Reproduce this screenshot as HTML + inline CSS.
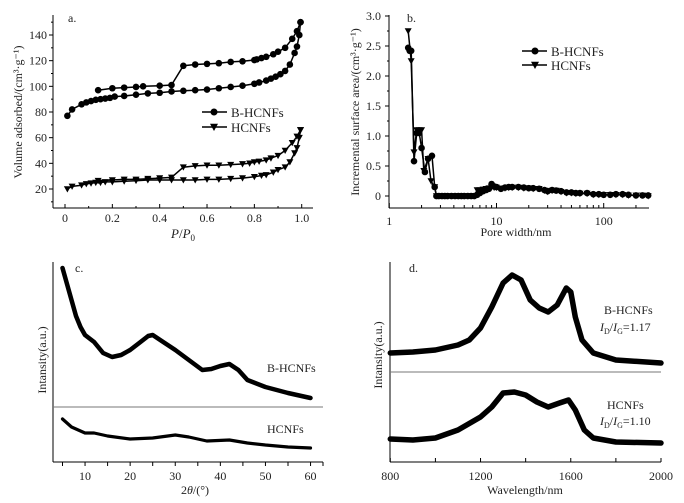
<!DOCTYPE html>
<html><head><meta charset="utf-8"><style>
body{margin:0;background:#fff}
svg{display:block;font-family:"Liberation Serif","Times New Roman",serif;}
svg text{font-family:"Liberation Serif","Times New Roman",serif;fill:#222}
</style></head><body>
<svg id="fig" width="684" height="503" viewBox="0 0 684 503"></svg>
<script>
// ---------- Panel a data ----------
const aBAdsP=[0.01,0.03,0.07,0.09,0.11,0.13,0.15,0.17,0.19,0.21,0.25,0.3,0.35,0.4,0.45,0.5,0.55,0.6,0.65,0.7,0.75,0.8,0.82,0.85,0.87,0.89,0.91,0.93,0.95,0.97,0.98,0.99,0.995];
const aBAdsV=[77,82,86,87.5,88.5,89.5,90,90.5,91,92,92.5,93.5,94.5,95,96,96.5,97,97.5,98.5,99.5,100.5,102,103,104.5,106,107.5,109.5,112,117,126,131,140,150];
const aBDesP=[0.995,0.98,0.96,0.93,0.9,0.88,0.85,0.83,0.81,0.8,0.75,0.7,0.65,0.6,0.55,0.5,0.45,0.4,0.33,0.3,0.25,0.2,0.14];
const aBDesV=[150,143,137,130,127,125,123,122,121,120.5,119.5,119,118,117.5,117,116,101,100.5,100,99.5,99,98.5,97];
const aHAdsP=[0.01,0.03,0.07,0.09,0.11,0.13,0.15,0.17,0.2,0.25,0.3,0.35,0.4,0.45,0.5,0.55,0.6,0.65,0.7,0.75,0.8,0.83,0.85,0.88,0.9,0.93,0.95,0.97,0.98,0.99,0.995];
const aHAdsV=[20,22,23,24,24.5,25,25,25.5,25.5,26,26.5,27,27,27,27,27,27.5,27.5,28,28.5,29.5,30.5,31,33,35,37,41,48,52,60,66];
const aHDesP=[0.995,0.98,0.96,0.93,0.9,0.87,0.85,0.82,0.8,0.78,0.75,0.7,0.65,0.6,0.55,0.5,0.45,0.4,0.35,0.3,0.25,0.2,0.14];
const aHDesV=[66,61,56,50,46,44,42.5,41.5,41,40,39.5,39,38.5,38.5,38,37,29,28.5,28,27.5,27.5,27,26.5];
const aXTicks=[0,0.2,0.4,0.6,0.8,1.0];
const aXLabels=["0","0.2","0.4","0.6","0.8","1.0"];
const aYTicks=[20,40,60,80,100,120,140];
// ---------- Panel b data ----------
const bBx=[1.5,1.55,1.6,1.7,1.8,1.9,2.0,2.15,2.3,2.5,2.65,2.75,2.9,3.1,3.3,3.5,3.8,4.1,4.4,4.7,5.0,5.4,5.8,6.2,6.6,7,7.5,8,8.5,9,9.5,10,11,12,13,14,16,18,20,22,25,28,30,33,36,40,45,50,55,60,70,80,90,100,115,130,150,170,200,230,260];
const bBy=[2.47,2.42,2.42,0.58,1.05,1.05,0.8,0.4,0.62,0.67,0.15,0,0,0,0,0,0,0,0,0,0,0,0,0,0.02,0.05,0.08,0.1,0.12,0.2,0.16,0.15,0.12,0.14,0.15,0.15,0.15,0.14,0.13,0.13,0.12,0.1,0.08,0.1,0.09,0.08,0.06,0.06,0.05,0.05,0.05,0.03,0.03,0.02,0.02,0.03,0.03,0.02,0.01,0.01,0.01];
const bHx=[1.5,1.6,1.7,1.8,1.9,2.0,2.1,2.3,2.45,2.65,2.75,2.9,3.1,3.3,3.5,3.8,4.1,4.4,4.7,5.0,5.4,5.8,6.2,6.6,7,7.5,8,8.5,9,9.5,10,11,12,13,14,16,18,20,22,25,28,30,33,36,40,45,50,55,60,70,80,90,100,115,130,150,170,200,230,260];
const bHy=[2.75,2.25,0.73,1.1,1.1,1.1,0.42,0.62,0.25,0.15,0,0,0,0,0,0,0,0,0,0,0,0,0,0.1,0.1,0.11,0.12,0.13,0.15,0.14,0.14,0.12,0.13,0.14,0.14,0.14,0.13,0.13,0.12,0.12,0.09,0.07,0.09,0.09,0.07,0.05,0.05,0.04,0.04,0.04,0.02,0.02,0.02,0.02,0.02,0.02,0.01,0.01,0.01,0.0];
const bXTicks=[1,10,100];
const bYTicks=[0,0.5,1.0,1.5,2.0,2.5,3.0];
const bYLabels=["0","0.5","1.0","1.5","2.0","2.5","3.0"];
// ---------- Panel c data ----------
const cBx=[5,6,7,8,9,10,12,14,16,18,20,22,24,25,27,30,33,36,38,40,42,44,46,50,55,60];
const cBy=[194,178,162,146,135,127,120,109,105,107,112,119,126,127,121,112,102,92,93,96,98,92,82,75,69,64];
const cHx=[5,7,10,12,15,20,25,30,33,37,42,46,50,55,60];
const cHy=[43,35,29,29,26,23,24,27,25,21,22,19,17,15,14];
const cXTicks=[10,20,30,40,50,60];
// ---------- Panel d data ----------
const dBx=[800,900,1000,1100,1150,1200,1250,1300,1340,1380,1420,1460,1500,1540,1580,1600,1620,1650,1700,1800,2000];
const dBy=[109,110,112,117,122,134,155,179,187,182,162,154,150,157,174,170,145,122,109,102,99];
const dHx=[800,900,1000,1100,1200,1250,1300,1350,1400,1450,1500,1550,1590,1620,1660,1700,1800,2000];
const dHy=[23,22,24,32,45,55,69,70,67,60,55,59,62,52,32,24,20,19];
const dXTicks=[800,1200,1600,2000];

const NS="http://www.w3.org/2000/svg";
const svg=document.getElementById('fig');
function mk(tag,attrs,parent){const e=document.createElementNS(NS,tag);for(const k in attrs)e.setAttribute(k,attrs[k]);(parent||svg).appendChild(e);return e;}
function txt(s,x,y,attrs){const e=mk('text',Object.assign({x:x,y:y,'font-size':12,'font-family':'Liberation Serif, serif'},attrs||{}));e.textContent=s;return e;}

const ax=p=>65+p*236.7, ay=v=>189-(v-20)*(154/120);
const bx=w=>389.3+Math.log10(w)*107.2, by=v=>196-v*60;
const cx=t=>62.5+(t-5)*4.51, cy=v=>462-v;
const dx=w=>390.3+(w-800)*(270.7/1200), dy=v=>462-v;

function poly(xs,ys,fx,fy,sw,name){
  const pts=xs.map((x,i)=>fx(x).toFixed(1)+','+fy(ys[i]).toFixed(1)).join(' ');
  const p=mk('polyline',{points:pts,fill:'none',stroke:'#000','stroke-width':sw,'stroke-linejoin':'round','stroke-linecap':'round'});
  
  
  return p;
}
function circ(x,y,r){const c=mk('circle',{cx:x,cy:y,r:r,fill:'#000'});
  
  }
function tri(x,y,s){const t=mk('polygon',{points:`${x-s},${y-s*0.8} ${x+s},${y-s*0.8} ${x},${y+s}`,fill:'#000'});
  
  }
function line(x1,y1,x2,y2,w,c){return mk('line',{x1,y1,x2,y2,stroke:c||'#000','stroke-width':w||1});}

// ===== Panel a =====
line(53,15,53,208);line(53,208,313,208);
aXTicks.forEach((t,i)=>{line(ax(t),208,ax(t),204);txt(aXLabels[i],ax(t),222,{'text-anchor':'middle'});});
[0.1,0.3,0.5,0.7,0.9].forEach(t=>line(ax(t),208,ax(t),206));
aYTicks.forEach(t=>{line(53,ay(t),49,ay(t));txt(String(t),47,ay(t)+4,{'text-anchor':'end'});});
[30,50,70,90,110,130,150,10].forEach(t=>{if(ay(t)<208&&ay(t)>15)line(53,ay(t),51,ay(t));});
poly(aBAdsP,aBAdsV,ax,ay,1.5,'b-hcnfs-adsorption-line');poly(aBDesP,aBDesV,ax,ay,1.5,'b-hcnfs-desorption-line');
poly(aHAdsP,aHAdsV,ax,ay,1.5,'hcnfs-adsorption-line');poly(aHDesP,aHDesV,ax,ay,1.5,'hcnfs-desorption-line');
aBAdsP.forEach((p,i)=>circ(ax(p),ay(aBAdsV[i]),3.3));aBDesP.forEach((p,i)=>circ(ax(p),ay(aBDesV[i]),3.3));
aHAdsP.forEach((p,i)=>tri(ax(p),ay(aHAdsV[i]),3.5));aHDesP.forEach((p,i)=>tri(ax(p),ay(aHDesV[i]),3.5));
txt('a.',68,22,{});
line(202,112,227,112,1.5);circ(214,112,3.5);txt('B-HCNFs',231,117,{'font-size':13});
line(202,127,227,127,1.5);tri(214,127,4);txt('HCNFs',231,132,{'font-size':13});
txt('Volume adsorbed/(cm³·g⁻¹)',0,0,{'font-size':12,transform:'translate(22,112) rotate(-90)','text-anchor':'middle',});
(function(){const t=txt('',183,238,{'text-anchor':'middle','font-size':13,});t.innerHTML='<tspan font-style="italic">P</tspan>/<tspan font-style="italic">P</tspan><tspan font-size="9" dy="3">0</tspan>';})();

// ===== Panel b =====
line(389,15,389,208);line(389,208,649,208);
bXTicks.forEach(t=>{line(bx(t),208,bx(t),203);txt(String(t),bx(t),225,{'text-anchor':'middle'});});
[2,3,4,5,6,7,8,9,20,30,40,50,60,70,80,90,200].forEach(t=>line(bx(t),208,bx(t),205));
bYTicks.forEach((t,i)=>{line(389,by(t),385,by(t));txt(bYLabels[i],381,by(t)+4,{'text-anchor':'end'});});
[0.25,0.75,1.25,1.75,2.25,2.75].forEach(t=>line(389,by(t),387,by(t)));
poly(bHx,bHy,bx,by,1.5,'hcnfs-pore-line');poly(bBx,bBy,bx,by,1.5,'b-hcnfs-pore-line');
bHx.forEach((x,i)=>tri(bx(x),by(bHy[i]),3.5));bBx.forEach((x,i)=>circ(bx(x),by(bBy[i]),3.3));
txt('b.',407,22,{});
line(522,51,547,51,1.5);circ(535,51,3.5);txt('B-HCNFs',551,56,{'font-size':13});
line(522,65,547,65,1.5);tri(535,65,4);txt('HCNFs',551,70,{'font-size':13});
txt('Incremental surface area/(cm³·g⁻¹)',0,0,{'font-size':12,transform:'translate(359,112) rotate(-90)','text-anchor':'middle',});
txt('Pore width/nm',516,236,{'text-anchor':'middle','font-size':12,});

// ===== Panel c =====
line(53,262,53,462);line(53,462,323,462);line(53,407,323,407,1,'#777');
[5,10,15,20,25,30,35,40,45,50,55,60].forEach(t=>line(cx(t),462,cx(t),466));line(323,462,323,466);
cXTicks.forEach(t=>txt(String(t),cx(t),480,{'text-anchor':'middle'}));
poly(cBx,cBy,cx,cy,4.5,'b-hcnfs-xrd-line');poly(cHx,cHy,cx,cy,3.2,'hcnfs-xrd-line');
txt('c.',75,272,{});
txt('B-HCNFs',267,372,{'font-size':12});txt('HCNFs',267,433,{'font-size':12});
txt('Intansity(a.u.)',0,0,{'font-size':12,transform:'translate(46,360) rotate(-90)','text-anchor':'middle',});
(function(){const t=txt('',195,494,{'text-anchor':'middle','font-size':12,});t.innerHTML='2<tspan font-style="italic">θ</tspan>/(°)';})();

// ===== Panel d =====
line(390,262,390,462);line(390,462,661,462);line(390,372,661,372,1,'#777');
[1000,1400,1800].forEach(t=>line(dx(t),462,dx(t),458));
dXTicks.forEach(t=>{line(dx(t),462,dx(t),458);txt(String(t),dx(t),480,{'text-anchor':'middle'});});
poly(dBx,dBy,dx,dy,5.5,'b-hcnfs-raman-line');poly(dHx,dHy,dx,dy,5.5,'hcnfs-raman-line');
txt('d.',409,272,{});
txt('B-HCNFs',604,314,{'font-size':12});
(function(){let t=txt('',600,331,{'font-size':12});t.innerHTML='<tspan font-style="italic">I</tspan><tspan font-size="8" dy="3">D</tspan><tspan dy="-3">/</tspan><tspan font-style="italic">I</tspan><tspan font-size="8" dy="3">G</tspan><tspan dy="-3">=1.17</tspan>';
txt('HCNFs',607,409,{'font-size':12});
t=txt('',600,425,{'font-size':12});t.innerHTML='<tspan font-style="italic">I</tspan><tspan font-size="8" dy="3">D</tspan><tspan dy="-3">/</tspan><tspan font-style="italic">I</tspan><tspan font-size="8" dy="3">G</tspan><tspan dy="-3">=1.10</tspan>';})();
txt('Intansity(a.u.)',0,0,{'font-size':12,transform:'translate(382,355) rotate(-90)','text-anchor':'middle',});
txt('Wavelength/nm',525,494,{'text-anchor':'middle','font-size':12,});
</script>
</body></html>
